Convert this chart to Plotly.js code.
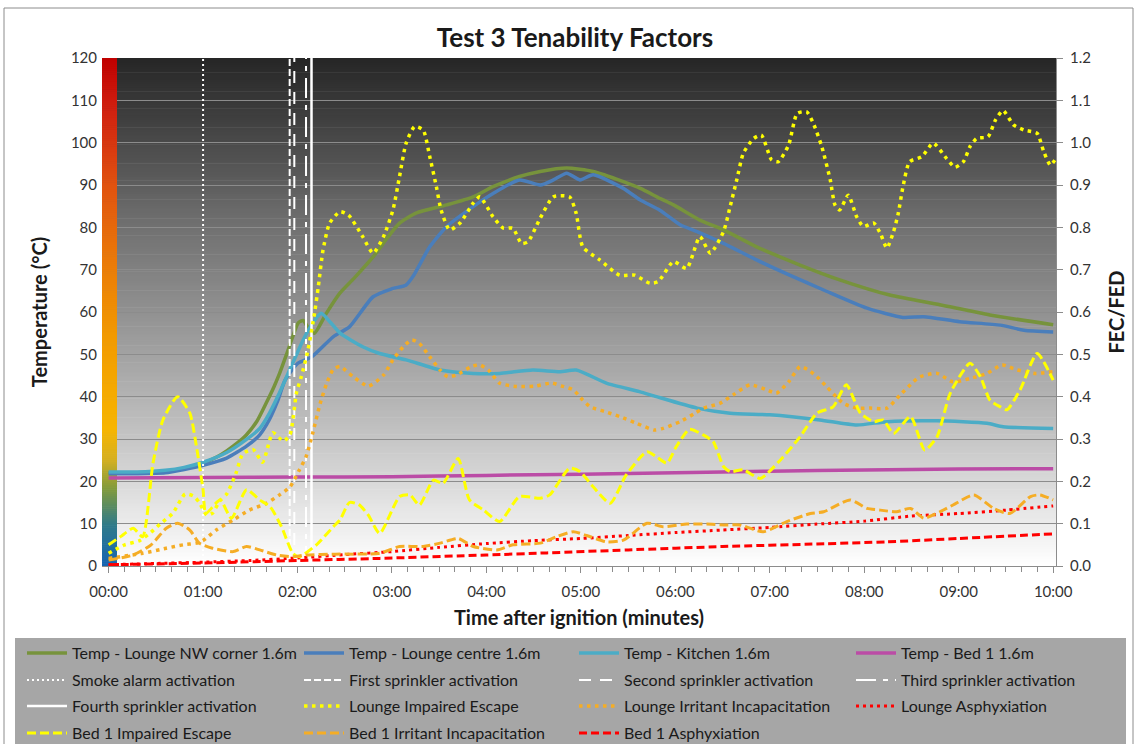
<!DOCTYPE html>
<html>
<head>
<meta charset="utf-8">
<script src="https://cdn.plot.ly/plotly-3.0.1.min.js"></script>
<style>html,body{margin:0;padding:0;background:#fff;}#chart{width:1136px;height:744px;}</style>
</head>
<body>
<div id="chart"></div>
<script>
// ---- tick labels ----
const tickMinutes = [0,1,2,3,4,5,6,7,8,9,10];
const tickLabels = ['00:00','01:00','02:00','03:00','04:00','05:00','06:00','07:00','08:00','09:00','10:00'];

// ---- temperatures (°C), time in minutes ----
const tLoungeNW = [0,0.3,0.6,0.8,1.0,1.15,1.25,1.36,1.46,1.57,1.675,1.75,1.81,1.9,2.01,2.06,2.12,2.18,2.3,2.45,2.6,2.8,2.95,3.08,3.26,3.58,3.86,4.07,4.35,4.57,4.85,5.13,5.45,5.63,5.84,5.98,6.26,6.51,6.86,7.32,7.74,8.27,8.8,9.33,10.0];
const tempLoungeNW = [22,22,22.3,23,24.3,25.8,27.2,29,31,34.2,38.8,42.3,45.5,51,57.5,58,56,55,59.5,64.5,68,73,77.5,81,83.4,85.3,87.2,89.6,92,93.2,94,93.2,90.8,89.2,86.8,85.3,81.7,79.4,75.4,71.1,67.6,64.0,61.7,59.3,57.0];

const tLoungeCentre = [0,0.3,0.6,0.8,1.0,1.25,1.46,1.6,1.7,1.79,1.87,2.005,2.15,2.38,2.55,2.8,3.0,3.15,3.22,3.4,3.58,3.86,4.07,4.35,4.57,4.71,4.85,4.99,5.13,5.45,5.625,5.84,6.05,6.23,6.51,6.86,7.21,7.57,8.03,8.41,8.63,9.01,9.44,9.69,10.0];
const tempLoungeCentre = [21.8,21.8,22,22.8,23.8,25.5,28.3,31,34.5,39,44,47.9,49.4,54.2,56.5,63.6,65.5,66.4,68.3,75.4,80.2,84.9,88,91.2,90,91.2,92.8,91.2,92.4,89.2,86.5,84,80.6,79,76.2,72.3,68.7,65.2,60.9,58.7,58.9,57.7,56.9,55.7,55.3];

const tKitchen = [0,0.3,0.6,0.8,1.0,1.25,1.46,1.6,1.7,1.8,1.95,2.06,2.15,2.25,2.35,2.45,2.69,2.87,3.15,3.51,3.86,4.14,4.49,4.78,4.95,5.27,5.62,5.8,6.23,6.58,7.0,7.53,7.92,8.24,8.77,9.3,9.47,10.0];
const tempKitchen = [22.2,22.2,22.6,23.3,24.5,26.8,29.9,32.5,36,40.5,48,53.4,57,59.7,57.5,55,51.8,50.2,48.7,46.3,45.5,45.5,46.3,45.9,46.3,43.2,41.2,40,37.3,36.1,35.7,34.5,33.3,34.1,34.3,33.7,32.9,32.5];

const tBed1 = [0,1,2,3,4,5,6,7,8,9,10];
const tempBed1 = [20.8,20.9,21.0,21.1,21.4,21.7,22.0,22.4,22.7,22.9,23.0];

// ---- activation times (minutes) ----
const smokeAlarmTime = 1.0;
const firstSprinklerTime = 1.917;
const secondSprinklerTime = 1.966;
const thirdSprinklerTime = 2.09;
const fourthSprinklerTime = 2.148;
const activationSpan = [0,120];

// ---- FEC / FED ----
const tLoungeEscape = [0,0.17,0.33,0.45,0.55,0.68,0.81,0.9,0.96,1.04,1.1,1.18,1.25,1.35,1.42,1.53,1.63,1.74,1.85,1.92,1.99,2.04,2.11,2.18,2.22,2.27,2.34,2.45,2.54,2.69,2.8,2.91,3.01,3.08,3.15,3.24,3.33,3.4,3.47,3.52,3.61,3.72,3.86,3.93,4.07,4.18,4.28,4.37,4.44,4.57,4.71,4.88,4.95,5.02,5.2,5.41,5.57,5.73,5.82,5.98,6.12,6.26,6.37,6.51,6.58,6.65,6.72,6.83,6.91,7.02,7.09,7.2,7.29,7.39,7.46,7.55,7.64,7.69,7.74,7.83,7.92,7.99,8.1,8.17,8.24,8.31,8.36,8.41,8.48,8.61,8.73,8.87,8.96,9.05,9.12,9.19,9.31,9.39,9.47,9.58,9.69,9.83,9.9,9.97,10.03];
const fedLoungeEscape = [0.03,0.05,0.06,0.08,0.10,0.125,0.17,0.165,0.15,0.12,0.125,0.155,0.17,0.22,0.265,0.275,0.245,0.315,0.295,0.31,0.41,0.447,0.51,0.597,0.66,0.746,0.81,0.837,0.829,0.778,0.739,0.778,0.841,0.92,0.999,1.038,1.03,0.967,0.896,0.841,0.794,0.81,0.857,0.872,0.825,0.798,0.798,0.762,0.766,0.822,0.872,0.872,0.833,0.754,0.723,0.687,0.687,0.668,0.672,0.719,0.703,0.778,0.739,0.79,0.849,0.912,0.975,1.01,1.018,0.959,0.955,0.995,1.069,1.073,1.046,0.991,0.912,0.853,0.841,0.876,0.825,0.802,0.81,0.786,0.751,0.79,0.833,0.896,0.955,0.967,0.999,0.963,0.942,0.955,0.991,1.01,1.014,1.054,1.076,1.042,1.03,1.022,0.979,0.947,0.963];

const tLoungeIrritant = [0,0.36,0.61,0.79,0.93,1.0,1.14,1.32,1.49,1.67,1.81,1.92,2.02,2.09,2.16,2.24,2.31,2.38,2.45,2.59,2.75,2.91,3.01,3.12,3.21,3.29,3.4,3.51,3.59,3.68,3.84,3.93,4.02,4.14,4.32,4.51,4.69,4.8,4.92,5.02,5.1,5.25,5.41,5.59,5.78,5.87,6.05,6.21,6.3,6.47,6.61,6.79,6.97,7.07,7.2,7.32,7.41,7.5,7.6,7.78,7.92,8.06,8.24,8.38,8.52,8.59,8.77,8.94,9.12,9.3,9.46,9.62,9.81,10.0];
const fedLoungeIrritant = [0.018,0.03,0.042,0.05,0.054,0.06,0.085,0.109,0.132,0.148,0.168,0.187,0.227,0.258,0.313,0.384,0.432,0.465,0.471,0.447,0.425,0.451,0.487,0.518,0.534,0.526,0.494,0.463,0.447,0.451,0.471,0.475,0.463,0.432,0.424,0.425,0.432,0.425,0.416,0.392,0.376,0.365,0.353,0.337,0.321,0.325,0.341,0.361,0.373,0.384,0.404,0.428,0.416,0.408,0.435,0.471,0.463,0.447,0.424,0.384,0.373,0.373,0.373,0.404,0.435,0.447,0.455,0.435,0.443,0.455,0.475,0.463,0.455,0.459];

const tLoungeAsphyx = [0,0.5,1,1.5,2,2.5,3,3.5,4,4.5,5,5.5,6,6.5,7,7.5,8,8.5,9,9.5,10];
const fedLoungeAsphyx = [0.003,0.006,0.009,0.013,0.019,0.027,0.034,0.044,0.053,0.06,0.065,0.072,0.079,0.085,0.091,0.099,0.106,0.118,0.124,0.132,0.142];

const tBedEscape = [0,0.13,0.26,0.36,0.47,0.575,0.73,0.86,0.93,1.0,1.03,1.18,1.3,1.46,1.6,1.71,1.83,1.95,2.02,2.2,2.38,2.45,2.55,2.65,2.75,2.87,3.08,3.19,3.29,3.44,3.54,3.7,3.82,3.97,4.14,4.35,4.57,4.67,4.88,4.99,5.13,5.31,5.48,5.7,5.8,5.91,6.01,6.15,6.3,6.4,6.51,6.58,6.72,6.9,7.11,7.32,7.5,7.67,7.81,7.96,8.1,8.2,8.31,8.49,8.64,8.77,8.91,9.12,9.23,9.33,9.44,9.51,9.65,9.83,10.0];
const fedBedEscape = [0.05,0.07,0.089,0.069,0.243,0.345,0.40,0.361,0.282,0.18,0.124,0.156,0.113,0.18,0.156,0.14,0.093,0.03,0.022,0.05,0.093,0.109,0.15,0.145,0.12,0.077,0.164,0.168,0.144,0.203,0.195,0.254,0.156,0.132,0.105,0.164,0.16,0.168,0.231,0.223,0.187,0.148,0.215,0.27,0.258,0.243,0.282,0.323,0.309,0.294,0.235,0.223,0.227,0.207,0.25,0.305,0.361,0.376,0.428,0.361,0.341,0.345,0.313,0.353,0.274,0.305,0.408,0.479,0.447,0.392,0.376,0.369,0.416,0.502,0.439];

const tBedIrritant = [0,0.26,0.45,0.61,0.73,0.86,0.96,1.1,1.32,1.46,1.6,1.78,1.95,2.09,2.4,2.87,3.08,3.33,3.51,3.7,3.86,4.11,4.28,4.57,4.74,4.92,5.1,5.27,5.45,5.7,5.87,6.12,6.33,6.54,6.68,6.93,7.18,7.43,7.57,7.85,8.03,8.17,8.34,8.49,8.63,8.8,8.94,9.16,9.37,9.54,9.76,9.86,10.0];
const fedBedIrritant = [0.014,0.026,0.05,0.089,0.101,0.085,0.054,0.042,0.034,0.046,0.038,0.026,0.022,0.026,0.028,0.03,0.046,0.046,0.054,0.065,0.046,0.038,0.05,0.054,0.069,0.081,0.069,0.057,0.061,0.101,0.093,0.099,0.099,0.097,0.097,0.081,0.105,0.124,0.128,0.156,0.136,0.132,0.128,0.136,0.113,0.128,0.144,0.168,0.136,0.124,0.164,0.168,0.156];

const tBedAsphyx = [0,1,2,2.87,4,4.64,5.5,6.5,7.5,8.24,9,10];
const fedBedAsphyx = [0.003,0.007,0.013,0.018,0.026,0.031,0.038,0.046,0.052,0.057,0.065,0.076];

// ---------------- styling ----------------
const FONT = 'Lato, "Open Sans", sans-serif';
const X_RANGE = [-0.07, 10.03];
const Y_MAX = 120;

function lerpColor(stops, f){
  for(let i=1;i<stops.length;i++){
    if(f<=stops[i][0]){
      const a=stops[i-1], b=stops[i];
      const k=(f-a[0])/(b[0]-a[0]);
      const c=a[1].map((v,j)=>Math.round(v+(b[1][j]-v)*k));
      return 'rgb('+c.join(',')+')';
    }
  }
  return 'rgb('+stops[stops.length-1][1].join(',')+')';
}
const bgStops = [[0,[255,255,255]],[0.1,[232,232,232]],[0.3,[186,186,186]],[0.5,[145,145,145]],[0.7,[106,106,106]],[0.85,[70,70,70]],[1,[38,38,38]]];
const barStops = [[0,[22,100,178]],[0.08,[47,122,138]],[0.15,[127,154,62]],[0.21,[214,176,32]],[0.27,[247,181,0]],[0.45,[242,154,0]],[0.6,[234,122,8]],[0.75,[224,82,16]],[0.9,[208,32,16]],[1,[192,0,0]]];

const shapes = [];
const NS = 240;
for(let i=0;i<NS;i++){
  const y0 = Y_MAX*i/NS, y1 = Y_MAX*(i+1)/NS;
  const f = (i+0.5)/NS;
  shapes.push({type:'rect', xref:'paper', yref:'y', x0:0, x1:1, y0:y0, y1:Math.min(Y_MAX, y1+0.15),
    fillcolor: lerpColor(bgStops,f), line:{width:0}, layer:'below'});
}
for(let i=0;i<NS;i++){
  const y0 = Y_MAX*i/NS, y1 = Y_MAX*(i+1)/NS;
  const f = (i+0.5)/NS;
  shapes.push({type:'rect', xref:'x', yref:'y', x0:X_RANGE[0], x1:0.089, y0:y0, y1:Math.min(Y_MAX, y1+0.15),
    fillcolor: lerpColor(barStops,f), line:{width:0}, layer:'between'});
}
// legend background
shapes.push({type:'rect', xref:'paper', yref:'paper', x0:(15-102)/954, x1:(1126-102)/954, y0:(566-800)/508, y1:(566-638)/508,
  fillcolor:'#a6a6a6', line:{width:0}, layer:'below'});
// chart border
shapes.push({type:'rect', xref:'paper', yref:'paper', x0:(4-102)/954, x1:(1133-102)/954, y0:(566-800)/508, y1:(566-8)/508,
  fillcolor:'rgba(0,0,0,0)', line:{width:1, color:'#8c8c8c'}, layer:'below'});

function temp(name, t, v, color, leg){
  return {type:'scatter', mode:'lines', name:name, x:t, y:v, yaxis:'y', legend:leg,
    line:{color:color, width:3.5, shape:'spline', smoothing:0.6}, hoverinfo:'skip'};
}
function vline(name, t, dash, width, leg){
  return {type:'scatter', mode:'lines', name:name, x:[t,t], y:activationSpan, yaxis:'y', legend:leg,
    line:{color:'#ffffff', width:width, dash:dash}, hoverinfo:'skip'};
}
function fed(name, t, v, color, dash, width, leg){
  return {type:'scatter', mode:'lines', name:name, x:t, y:v, yaxis:'y2', legend:leg,
    line:{color:color, width:width, dash:dash, shape:'spline', smoothing:0.6}, hoverinfo:'skip'};
}

const YEL='#ffff00', ORA='#f5ad25', RED='#ff0000';
const data = [
  temp('Temp - Lounge NW corner 1.6m', tLoungeNW, tempLoungeNW, '#77933c', 'legend'),
  temp('Temp - Lounge centre 1.6m', tLoungeCentre, tempLoungeCentre, '#4a7ebb', 'legend'),
  temp('Temp - Kitchen 1.6m', tKitchen, tempKitchen, '#4bacc6', 'legend2'),
  temp('Temp - Bed 1 1.6m', tBed1, tempBed1, '#bb4ca6', 'legend2'),
  vline('Smoke alarm activation', smokeAlarmTime, '2px,3px', 2, 'legend3'),
  vline('First sprinkler activation', firstSprinklerTime, '7px,3px', 2, 'legend3'),
  vline('Second sprinkler activation', secondSprinklerTime, '12px,9px', 2, 'legend4'),
  vline('Third sprinkler activation', thirdSprinklerTime, '20px,7px,5px,7px', 2, 'legend4'),
  vline('Fourth sprinkler activation', fourthSprinklerTime, 'solid', 2.5, 'legend5'),
  fed('Lounge Impaired Escape', tLoungeEscape, fedLoungeEscape, YEL, '3.5px,4.5px', 3.5, 'legend5'),
  fed('Lounge Irritant Incapacitation', tLoungeIrritant, fedLoungeIrritant, ORA, '3.5px,4.5px', 3.5, 'legend6'),
  fed('Lounge Asphyxiation', tLoungeAsphyx, fedLoungeAsphyx, RED, '3px,4px', 3, 'legend6'),
  fed('Bed 1 Impaired Escape', tBedEscape, fedBedEscape, YEL, '9px,4px', 3, 'legend7'),
  fed('Bed 1 Irritant Incapacitation', tBedIrritant, fedBedIrritant, ORA, '9px,4px', 3, 'legend7'),
  fed('Bed 1 Asphyxiation', tBedAsphyx, fedBedAsphyx, RED, '8px,4px', 3, 'legend8')
];

function legendBox(xPx, yPx){
  return {orientation:'h', xref:'container', yref:'container', x:xPx/1136, y:1-yPx/744,
    xanchor:'left', yanchor:'middle', bgcolor:'rgba(0,0,0,0)', borderwidth:0,
    font:{family:FONT, size:16, color:'#1a1a1a'}, entrywidth:222, entrywidthmode:'pixels',
    itemwidth:40, traceorder:'normal'};
}
const LX1 = 22, LX2 = 574;

const layout = {
  width:1136, height:744,
  paper_bgcolor:'#ffffff', plot_bgcolor:'#ffffff',
  margin:{l:102, r:80, t:58, b:178, pad:0},
  font:{family:FONT, color:'#333'},
  title:{text:'Test 3 Tenability Factors', xref:'container', yref:'container', x:575/1136, y:1-38/744,
    xanchor:'center', yanchor:'middle', font:{family:FONT, size:26, weight:700, color:'#1a1a1a'}},
  xaxis:{range:X_RANGE, tickmode:'array', tickvals:tickMinutes, ticktext:tickLabels,
    ticks:'outside', ticklen:6, tickcolor:'#8c8c8c', tickwidth:1, ticklabelstandoff:6,
    showline:true, linecolor:'#8c8c8c', linewidth:1, showgrid:false, zeroline:false,
    tickfont:{family:FONT, size:15, color:'#333'},
    minor:{tickmode:'linear', tick0:0, dtick:1/6, ticks:'outside', ticklen:5, tickcolor:'#8c8c8c', showgrid:false},
    title:{text:'Time after ignition (minutes)', standoff:11, font:{family:FONT, size:20, weight:700, color:'#1a1a1a'}}},
  yaxis:{range:[0,Y_MAX], dtick:10, tick0:0, showgrid:true, gridcolor:'#8c8c8c', gridwidth:1,
    zeroline:false, showline:false, ticks:'', ticklabelstandoff:4,
    tickfont:{family:FONT, size:15, color:'#333'},
    title:{text:'Temperature (°C)', standoff:17, font:{family:FONT, size:20, weight:700, color:'#1a1a1a'}}},
  yaxis2:{overlaying:'y', side:'right', range:[0,1.2], dtick:0.1, tick0:0, tickformat:'.1f',
    showgrid:false, zeroline:false, showline:true, linecolor:'#8c8c8c', linewidth:1,
    ticks:'outside', ticklen:6, tickcolor:'#8c8c8c', ticklabelstandoff:4,
    tickfont:{family:FONT, size:15, color:'#333'},
    title:{text:'FEC/FED', standoff:19, font:{family:FONT, size:20, weight:700, color:'#1a1a1a'}}},
  shapes:shapes,
  legend:legendBox(LX1, 653), legend2:legendBox(LX2, 653),
  legend3:legendBox(LX1, 680), legend4:legendBox(LX2, 680),
  legend5:legendBox(LX1, 706), legend6:legendBox(LX2, 706),
  legend7:legendBox(LX1, 733), legend8:legendBox(LX2, 733),
  showlegend:true
};

Plotly.newPlot('chart', data, layout, {staticPlot:true, displayModeBar:false});
</script>
</body>
</html>
